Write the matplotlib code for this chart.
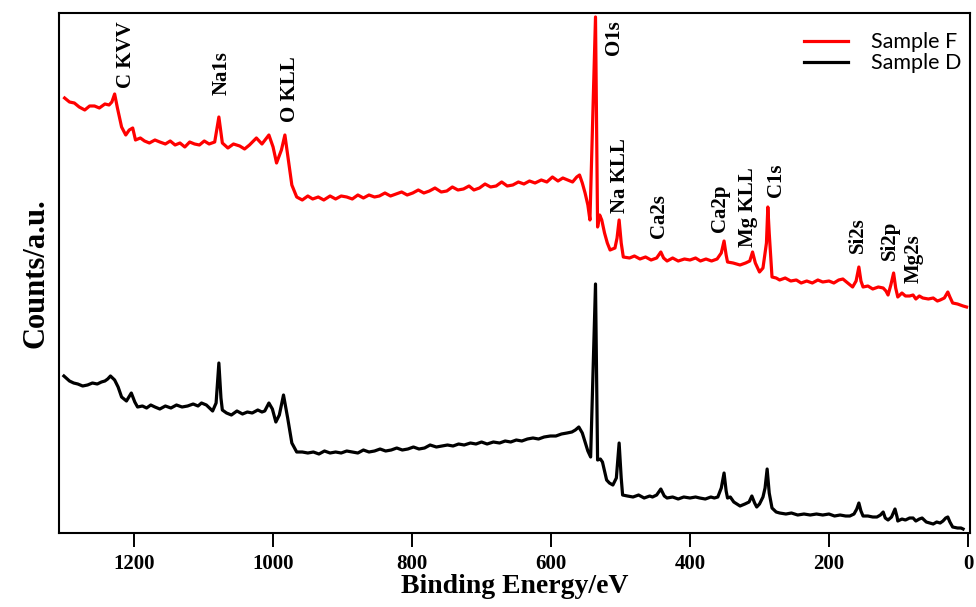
import matplotlib
matplotlib.use("Agg")
import matplotlib.pyplot as plt

# XPS survey spectra, binding energy (eV) vs counts (a.u.)
energy_f = [1300, 1293, 1286, 1279, 1271, 1264, 1257, 1250, 1242, 1236, 1232, 1228, 1224, 1218,
            1212, 1207, 1202, 1198, 1191, 1185, 1178, 1170, 1163, 1155, 1148, 1141, 1134, 1127,
            1120, 1113, 1106, 1099, 1092, 1084, 1078, 1073, 1065, 1057, 1048, 1041, 1034, 1024,
            1016, 1006, 1000, 995, 988, 983, 978, 973, 966, 958, 950, 943, 935, 927, 918, 910,
            902, 894, 886, 878, 870, 862, 854, 847, 839, 831, 823, 815, 807, 799, 791, 783, 775,
            767, 758, 750, 742, 734, 726, 718, 711, 703, 695, 687, 679, 671, 663, 655, 647, 639,
            631, 623, 614, 606, 598, 590, 583, 576, 569, 563, 559, 555, 551, 547, 544, 536, 533,
            530, 527, 523, 519, 515, 508, 505, 502, 499, 496, 487, 480, 472, 464, 456, 448, 442,
            438, 433, 425, 417, 408, 400, 392, 385, 377, 369, 361, 355, 351, 348, 346, 338, 328,
            320, 314, 310, 306, 300, 295, 290, 288, 286, 282, 276, 271, 263, 255, 247, 240, 232,
            224, 216, 209, 200, 193, 186, 180, 173, 166, 161, 157, 154, 151, 144, 137, 129, 122,
            118, 115, 111, 107, 104, 101, 95, 90, 84, 79, 75, 70, 65, 57, 50, 44, 40, 34, 29, 26,
            22, 15, 11, 7, 2]
counts_f = [435, 431, 430, 426, 423, 427, 427, 425, 429, 428, 431, 439, 425, 406,
            398, 403, 405, 393, 395, 392, 390, 393, 391, 389, 392, 388, 390, 386,
            391, 389, 388, 392, 389, 391, 416, 390, 385, 389, 387, 384, 388, 395,
            389, 398, 386, 370, 383, 398, 373, 348, 336, 333, 337, 334, 336, 333, 337, 334,
            337, 336, 334, 338, 335, 338, 336, 337, 340, 337, 339, 341, 338, 340, 343, 340, 342,
            345, 341, 342, 346, 343, 344, 347, 343, 345, 349, 346, 347, 351, 347, 348, 351, 349,
            352, 350, 353, 351, 356, 352, 355, 353, 351, 356, 358, 350, 340, 328, 313, 516, 306,
            318, 313, 300, 290, 283, 285, 295, 313, 290, 276, 275, 277, 274, 276, 273, 275, 281,
            275, 272, 275, 272, 274, 273, 275, 272, 274, 272, 274, 280, 292, 278, 271, 270, 268,
            270, 272, 281, 270, 261, 265, 290, 326, 300, 256, 255, 253, 255, 252, 253, 250, 252,
            250, 253, 251, 252, 250, 253, 254, 250, 246, 252, 266, 252, 246, 247, 244, 246, 245,
            242, 238, 248, 260, 245, 236, 240, 237, 237, 238, 234, 237, 235, 234, 235, 232, 233, 235, 241, 236,
            230, 229, 228, 227, 226]

energy_d = [1301, 1293, 1287, 1281, 1274, 1267, 1260, 1253, 1247, 1242, 1238, 1234, 1228, 1223,
            1218, 1211, 1204, 1199, 1195, 1188, 1182, 1176, 1170, 1163, 1155, 1147, 1139, 1131,
            1123, 1115, 1108, 1103, 1096, 1087, 1082, 1078, 1075, 1073, 1067, 1060, 1052, 1044,
            1037, 1030, 1022, 1016, 1012, 1006, 1001, 996, 991, 985, 979, 973, 966, 958, 950, 942,
            934, 926, 918, 910, 902, 894, 886, 878, 870, 862, 854, 846, 838, 830, 822, 814, 806,
            798, 790, 782, 774, 765, 757, 749, 741, 733, 725, 716, 708, 700, 692, 683, 674, 666,
            658, 650, 642, 634, 626, 618, 610, 601, 593, 585, 577, 570, 565, 560, 555, 551, 547,
            543, 536, 533, 529, 526, 520, 516, 511, 506, 502, 499, 497, 490, 482, 474, 466, 458,
            454, 448, 442, 437, 433, 425, 417, 409, 400, 392, 386, 378, 370, 365, 360, 355, 351,
            348, 346, 342, 337, 328, 321, 315, 311, 307, 304, 300, 295, 292, 289, 286, 282, 276,
            271, 262, 254, 245, 236, 227, 218, 209, 200, 192, 184, 176, 170, 164, 160, 157, 154,
            151, 144, 137, 131, 126, 122, 119, 115, 110, 105, 102, 101, 95, 90, 84, 79, 75, 70,
            66, 60, 55, 50, 45, 40, 36, 32, 29, 26, 22, 15, 10, 7]
counts_d = [157, 152, 150, 149, 147, 148, 150, 149, 151, 152, 154, 157, 153, 146,
            136, 132, 140, 131, 126, 127, 125, 128, 126, 124, 127, 125, 128, 126,
            127, 129, 127, 130, 128, 122, 130, 170, 135, 123, 120, 118, 122, 119,
            121, 120, 123, 121, 122, 130, 124, 111, 118, 138, 115, 90, 81, 81, 80, 81,
            79, 82, 80, 81, 80, 82, 81, 80, 83, 81, 82, 84, 82, 83, 85, 83, 84,
            86, 84, 85, 88, 86, 87, 88, 87, 89, 88, 90, 89, 91, 89, 91, 90, 92,
            91, 93, 92, 94, 95, 94, 96, 97, 97, 99, 100, 101, 103, 106, 100, 91, 82,
            76, 249, 73, 74, 71, 53, 50, 48, 55, 90, 55, 38, 37, 36, 38, 35, 37,
            36, 38, 44, 37, 35, 36, 34, 36, 35, 36, 35, 34, 36, 35, 36, 45, 60,
            42, 35, 36, 31, 27, 29, 31, 37, 30, 26, 29, 36, 45, 64, 40, 25, 21,
            20, 19, 20, 18, 19, 18, 19, 18, 19, 17, 18, 17, 17, 19, 24, 30, 22,
            17, 17, 16, 16, 18, 21, 15, 13, 16, 24, 16, 12, 14, 13, 15, 15, 12, 14,
            15, 11, 10, 9, 11, 10, 12, 15, 16, 11, 6, 5, 5, 4]

peak_names = ["C KVV", "Na1s", "O KLL", "O1s", "Na KLL", "Ca2s", "Ca2p",
              "Mg KLL", "C1s", "Si2s", "Si2p", "Mg2s"]
# where each peak label sits (energy, counts at label start)
label_x = [1211, 1074, 976, 510, 501, 445, 357, 317, 276, 159, 113, 78]
label_y = [445, 438, 411, 478, 320, 295, 301, 286, 336, 280, 273, 250]

xticks = [1200, 1000, 800, 600, 400, 200, 0]

serif = "Liberation Serif"

fig = plt.figure(figsize=(9.76, 6.07), dpi=100)
ax = fig.add_axes([0.0605, 0.1219, 0.9334, 0.8567])

ax.plot(energy_f, counts_f, color="red", lw=2.3, label="Sample F")
ax.plot(energy_d, counts_d, color="black", lw=2.3, label="Sample D")

for name, lx, ly in zip(peak_names, label_x, label_y):
    ax.text(lx, ly, name, rotation=90, ha="center", va="bottom",
            fontsize=15, fontweight="bold", family=serif)

ax.set_xlim(1308, -3)
ax.set_ylim(0, 520)
ax.set_xticks(xticks)
ax.set_xticklabels([str(t) for t in xticks], fontsize=15, fontweight="bold", family=serif)
ax.set_yticks([])
ax.tick_params(axis="x", direction="out", length=10, width=1.4, pad=5)
for sp in ax.spines.values():
    sp.set_linewidth(1.5)

ax.set_xlabel("Binding Energy/eV", fontsize=20, fontweight="bold", family=serif, labelpad=0)
ax.set_ylabel("Counts/a.u.", fontsize=22, fontweight="bold", family=serif, labelpad=6)

leg = ax.legend(loc="upper right", bbox_to_anchor=(1.012, 1.0), frameon=False,
                prop={"family": "Lato", "size": 15.5}, handlelength=2.0,
                handletextpad=1.1, labelspacing=0.05)

fig.savefig("out.png", dpi=100)
